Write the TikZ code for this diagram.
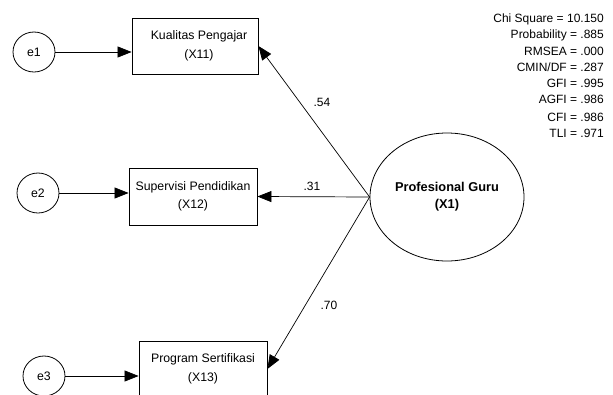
\documentclass[tikz,border=0pt]{standalone}
\usepackage{fontspec}
\setmainfont{Liberation Sans}
\usetikzlibrary{arrows.meta,shapes.geometric}
\begin{document}
\begin{tikzpicture}[x=1pt,y=-1pt,
  every node/.style={inner sep=0pt},
  obs/.style={draw, line width=0.8pt, minimum width=126pt, minimum height=56pt, align=center, font=\fontsize{12.3}{18.5}\selectfont},
  err/.style={draw, line width=0.8pt, ellipse, minimum width=42pt, minimum height=40pt, font=\fontsize{12.3}{14}\selectfont},
  lat/.style={draw, line width=0.8pt, ellipse, minimum width=154pt, minimum height=128pt, align=center, font=\bfseries\fontsize{12.8}{17}\selectfont},
  arr/.style={line width=0.7pt, -{Triangle[length=14pt,width=11pt]}},
  stat/.style={anchor=east, font=\fontsize{12}{13}\selectfont},
  coef/.style={font=\fontsize{12}{13}\selectfont}
]
\useasboundingbox (0,0) rectangle (613,394);
% observed variables
\node[obs] (b1) at (195,46) {\hspace*{8pt}Kualitas Pengajar\\\hspace*{8pt}(X11)};
\node[obs, minimum width=128pt, minimum height=57pt] (b2) at (193,196.5) {Supervisi Pendidikan\\(X12)};
\node[obs, minimum width=128pt] (b3) at (203,369) {Program Sertifikasi\\(X13)};
% errors
\node[err] (e1) at (34,52) {e1};
\node[err] (e2) at (38,193) {e2};
\node[err] (e3) at (44,376) {e3};
% latent
\node[lat] (pg) at (447,197) {Profesional Guru\\(X1)};
% connectors
\draw[arr] (e1) -- (e1 -| b1.west);
\draw[arr] (e2) -- (e2 -| b2.west);
\draw[arr] (e3) -- (e3 -| b3.west);
\draw[arr] (pg.west) -- (b1.east);
\draw[arr] (pg.west) -- (b2.east);
\draw[arr] (pg.west) -- (b3.east);
% coefficients
\node[coef] (c1) at (322,102) {.54};
\node[coef] (c2) at (312,186) {.31};
\node[coef] (c3) at (329,305) {.70};
% fit statistics
\node[stat] (s1) at (604,19) {Chi Square = 10.150};
\node[stat] (s2) at (604,35) {Probability = .885};
\node[stat] (s3) at (604,51) {RMSEA = .000};
\node[stat] (s4) at (604,67) {CMIN/DF = .287};
\node[stat] (s5) at (604,83) {GFI = .995};
\node[stat] (s6) at (604,99) {AGFI = .986};
\node[stat] (s7) at (604,117) {CFI = .986};
\node[stat] (s8) at (604,133) {TLI = .971};
\end{tikzpicture}
\end{document}
